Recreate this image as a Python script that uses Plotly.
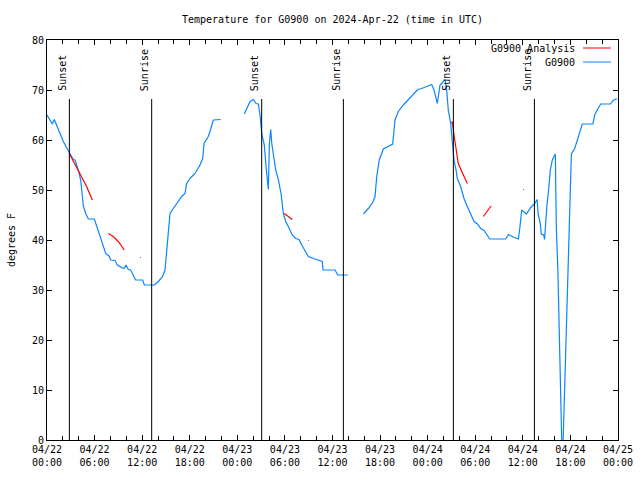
import pandas as pd
import plotly.graph_objects as go

START = pd.Timestamp("2024-04-22 00:00")

# G0900 observed temperature (hours since 2024-04-22 00:00 UTC, degrees F); None = gap
obs_hours = [0, 0.67, 0.92, 1.43, 2.06, 2.81, 3.32, 3.53, 3.95, 4.25, 4.37, 4.58, 4.88, 5.21,
             5.97, 6.26, 6.68, 7.1, 7.4, 7.82, 8.03, 8.58, 8.87, 9.42, 9.71, 9.96, 10.25, 10.55,
             10.89, 11.18, 11.73, 12.07, 12.27, 13.53, 14.04, 14.59, 14.88, 15.09, 15.3, 15.51,
             15.93, 16.36, 16.98, 17.4, 17.61, 18.03, 18.66, 19.29, 19.63, 19.8, 20.34, 20.55,
             20.97, 21.9, 23.4,
             24.88, 25.18, 25.6, 26.02, 26.36, 26.65, 26.86, 27.07, 27.4, 27.62, 27.78, 27.91,
             28.04, 28.21, 28.34, 28.54, 28.84, 29.18, 29.51, 29.8, 30.1, 30.43, 30.93, 31.36,
             31.77, 32.12, 32.53, 32.95, 33.58, 34.21, 34.71, 34.8, 36.32, 36.66, 37.92, 38.9,
             39.89, 40.52, 41.07, 41.36, 41.58, 41.9, 42.41, 43.04, 43.59, 43.88, 44.3, 44.93,
             45.56, 46.19, 46.75, 47.25, 48.08, 48.51, 48.8, 49.22, 49.56, 50.19, 50.4, 50.6,
             50.9, 51.07, 51.32, 51.58, 51.74, 52.16, 52.58, 53.0, 53.43, 53.85, 54.27, 54.69,
             55.11, 55.53, 55.83, 57.85, 58.18, 58.9, 59.44, 59.61, 59.86, 60.45, 61.0, 61.5,
             61.8, 61.92, 62.2, 62.33, 62.62, 62.74, 62.87, 63.04, 63.25, 63.47, 63.72, 64.1,
             64.14, 64.22, 64.43, 64.55, 64.72, 64.85, 64.93, 65.05, 65.14, 65.27, 65.4, 65.57,
             65.69, 65.82, 65.9, 66.03, 66.12, 66.54, 66.83, 67.16, 67.5, 68.84, 69.06, 69.48,
             69.82, 71.05, 71.39, 71.73, 71.9]
obs_temps = [65.0, 63.2, 64.1, 62.0, 59.7, 57.5, 56.1, 56.0, 54.0, 52.0, 50.0, 46.8, 45.3, 44.2,
             44.2, 42.7, 40.7, 38.7, 37.3, 36.8, 36.0, 35.9, 35.0, 34.5, 34.3, 35.0, 34.1, 34.0,
             33.0, 32.0, 32.0, 32.0, 31.0, 31.0, 31.7, 32.7, 34.0, 38.0, 41.3, 45.3,
             46.3, 47.3, 48.7, 49.3, 51.3, 52.3, 53.3, 55.0, 56.3, 59.3, 60.7, 61.7,
             64.0, 64.1, None,
             65.2, 66.3, 67.7, 68.1, 67.3, 67.2, 65.0, 61.3, 59.0, 54.7, 52.7, 50.1,
             59.3, 62.1, 59.3, 56.7, 54.0, 52.0, 49.3, 45.3, 43.7, 42.7, 41.0, 40.3,
             40.1, 39.0, 37.9, 36.7, 36.3, 35.9, 35.7, 34.0, 34.0, 33.0, 33.0, None,
             45.2, 46.3, 47.5, 48.7, 52.7, 56.0, 58.2, 58.7, 59.2, 64.0, 65.7, 67.0,
             68.1, 69.0, 70.1, 70.3, 70.8, 71.1, 70.0, 67.3, 71.0, 72.1, 70.0, 66.0,
             63.3, 60.7, 56.0, 54.0, 52.3, 50.7, 48.3, 46.7, 45.0, 43.7, 43.2, 42.3,
             41.9, 41.0, 40.2, 40.2, 41.1, 40.5, 40.2, 42.3, 46.0, 45.2, 46.5, 47.3,
             48.1, 45.3, 43.3, 41.2, 41.0, 40.1, 43.3, 47.0, 50.0, 54.0, 56.0, 57.2,
             52.0, 42.7, 33.3, 24.0, 14.3, 4.7, -2.0, -2.0, 3.3, 10.7, 18.0, 25.0,
             32.0, 39.3, 46.3, 53.3, 57.2, 58.3, 59.7, 61.7, 63.2, 63.2, 65.0, 66.3,
             67.2, 67.2, 67.9, 68.2, 68.2]

# G0900 Analysis (short segments; None = gap)
ana_hours = [2.81, 3.32, 4.16, 5.0, 5.71, 6.5,
             7.73, 8.36, 8.99, 9.75, 10.5,
             11.72, 11.82, 12.5,
             29.92, 30.4, 30.93, 31.5,
             32.90, 33.0, 33.5,
             51.03, 51.1, 51.35, 51.58, 51.86, 52.3, 53.0, 54.0,
             55.02, 55.99, 57.0,
             60.02, 60.12]
ana_temps = [57.3, 55.7, 53.3, 50.7, 48.0, None,
             41.3, 40.7, 39.7, 38.0, None,
             36.5, 36.5, None,
             45.3, 44.7, 44.1, None,
             39.9, 39.9, None,
             63.3, 63.7, 60.7, 58.0, 55.3, 53.7, 51.3, None,
             44.7, 46.8, None,
             50.1, 50.1]

# Sun events (hours since start)
sun_hours = [2.82, 13.2, 27.07, 37.37, 51.24, 61.46]
sun_labels = ["Sunset", "Sunrise", "Sunset", "Sunrise", "Sunset", "Sunrise"]

tick_hours = list(range(0, 73, 6))

def to_time(hs):
    return [START + pd.Timedelta(hours=h) for h in hs]

FONT = "DejaVu Sans Mono"
BLUE = "#0a84ff"
RED = "#ff0000"

fig = go.Figure()
fig.add_trace(go.Scatter(x=to_time(obs_hours), y=obs_temps, mode="lines",
                         line=dict(color=BLUE, width=1.2), name="G0900",
                         connectgaps=False, showlegend=False))
fig.add_trace(go.Scatter(x=to_time(ana_hours), y=ana_temps, mode="lines",
                         line=dict(color=RED, width=1.2), name="G0900 Analysis",
                         connectgaps=False, showlegend=False))

for h, lab in zip(sun_hours, sun_labels):
    t = START + pd.Timedelta(hours=h)
    fig.add_shape(type="line", x0=t, x1=t, y0=0, y1=68.2, xref="x", yref="y",
                  line=dict(color="black", width=1))
    fig.add_annotation(x=t, y=69.4, xref="x", yref="y", text=lab, textangle=-90,
                       showarrow=False, xanchor="right", yanchor="bottom", xshift=0,
                       font=dict(family=FONT, size=10, color="black"))

# legend emulation (gnuplot style: text, then line sample)
legend_items = [("G0900 Analysis", RED), ("G0900", BLUE)]
for i, (txt, col) in enumerate(legend_items):
    ypix = 48 + 14 * i
    yp = 1 - (ypix - 40) / 400
    fig.add_annotation(x=(577 - 47) / 571, y=yp, xref="paper", yref="paper", text=txt,
                       showarrow=False, xanchor="right", yanchor="middle",
                       font=dict(family=FONT, size=10, color="black"))
    fig.add_shape(type="line", xref="paper", yref="paper",
                  x0=(583 - 47) / 571, x1=(611 - 47) / 571, y0=yp, y1=yp,
                  line=dict(color=col, width=1))

tickvals = to_time(tick_hours)
ticktext = [t.strftime("%m/%d") + "<br>" + t.strftime("%H:%M") for t in tickvals]

fig.update_layout(
    width=640, height=480,
    margin=dict(l=47, r=22, t=40, b=40, autoexpand=False),
    paper_bgcolor="white", plot_bgcolor="white",
    font=dict(family=FONT, size=10, color="black"),
    title=dict(text="Temperature for G0900 on 2024-Apr-22 (time in UTC)",
               x=(47 + 618) / 2 / 640, xanchor="center", y=1 - 19 / 480, yanchor="middle",
               font=dict(family=FONT, size=10, color="black")),
    showlegend=False,
)
fig.update_xaxes(
    type="date", range=[START, START + pd.Timedelta(hours=72)], automargin=False,
    tickvals=tickvals, ticktext=ticktext, ticks="inside", ticklen=5,
    tickcolor="black", showline=True, linecolor="black", linewidth=1,
    mirror="ticks", showgrid=False, zeroline=False,
    minor=dict(dtick=2 * 3600 * 1000, ticks="inside", ticklen=4, tickcolor="black",
               showgrid=False),
    tickfont=dict(family=FONT, size=10, color="black"),
)
fig.update_yaxes(
    range=[0, 80], dtick=10, ticks="inside", ticklen=5, tickcolor="black", automargin=False,
    showline=True, linecolor="black", linewidth=1, mirror="ticks",
    showgrid=False, zeroline=False,
    title=dict(text="degrees F", font=dict(family=FONT, size=10, color="black"), standoff=14),
    tickfont=dict(family=FONT, size=10, color="black"),
)

fig.write_html("out.html")
